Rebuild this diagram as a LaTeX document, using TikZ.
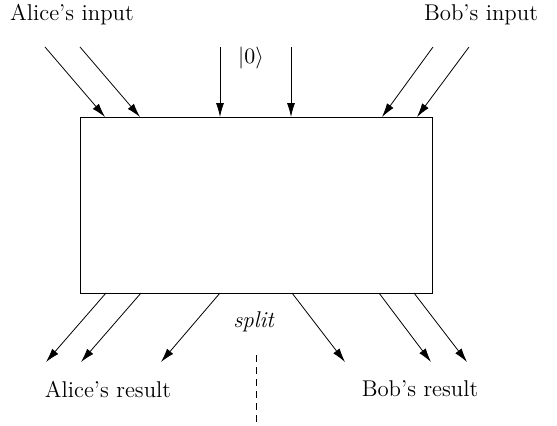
\documentclass[tikz,border=0pt]{standalone}
\usetikzlibrary{arrows.meta}

\begin{document}
\begin{tikzpicture}[x=0.5pt,y=-0.5pt,
    wire/.style={thin,-{Latex[length=7pt,width=4pt]}},
    lbl/.style={inner sep=0pt,font=\fontsize{11.4}{13}\selectfont}]
  \useasboundingbox (0,0) rectangle (557,425);
  % the box
  \node[draw,thin,inner sep=0pt,minimum width=176pt,minimum height=88pt]
    (box) at (256,205) {};
  % labels
  \node[lbl] (ain) at (72,15) {Alice's input};
  \node[lbl] (bin) at (481,15) {Bob's input};
  \node[lbl] (zero) at (251,58) {$|0\rangle$};
  \node[lbl] (split) at (254,322) {\textit{split}};
  \node[lbl] (ares) at (108,389) {Alice's result};
  \node[lbl] (bres) at (420,389) {Bob's result};
  % inputs
  \foreach \name/\sx/\ex in {ia/45/105, ib/80/140, iz/220/220, iw/291/291, ic/433/382, id/469/417} {
    \coordinate (\name s) at (\sx,47);
    \coordinate (\name e) at (\ex,117);
    \draw[wire] (\name s) -- (\name e);
  }
  % outputs
  \foreach \name/\sx/\ex in {oa/106/46, ob/141/81, oz/220/161, ow/292/345, oc/379/431, od/414/467} {
    \coordinate (\name s) at (\sx,293);
    \coordinate (\name e) at (\ex,362);
    \draw[wire] (\name s) -- (\name e);
  }
  % cut
  \coordinate (cuttop) at (256,355);
  \coordinate (cutbot) at (256,425);
  \draw[thin,dash pattern=on 3.5pt off 2.5pt] (cuttop) -- (cutbot);
\end{tikzpicture}
\end{document}
